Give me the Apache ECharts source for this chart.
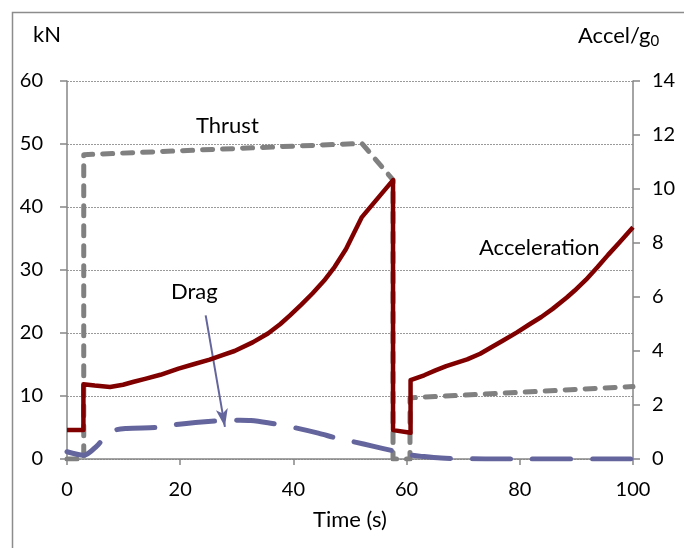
<!DOCTYPE html>
<html>
<head>
<meta charset="utf-8">
<script src="https://cdn.jsdelivr.net/npm/echarts@6/dist/echarts.min.js"></script>
<style>
html,body{margin:0;padding:0;background:#fff;}
#c{width:684px;height:548px;}
</style>
</head>
<body>
<div id="c"></div>
<script>
const xTicks = [0, 20, 40, 60, 80, 100];
const thrustTime = [0, 2.96, 2.96, 52.1, 57.6, 57.6, 60.6, 60.6, 100];
const thrustKN   = [0, 0, 48.3, 50.1, 44.3, 0, 0, 9.7, 11.5];

const accelTime = [0, 2.9, 2.9, 4.9, 7.6, 9.9, 11.8, 13.8, 16.5, 19.7, 22.2, 25.2, 27.6, 29.6, 32.8, 35.5, 37.7, 39.4, 41.4, 43.4, 45.4, 47.3, 49.3, 52.1, 57.6, 57.6, 60.7, 60.7, 63.1, 65.1, 67.0, 70.7, 73.0, 74.9, 76.9, 79.5, 81.8, 83.8, 85.8, 88.3, 89.7, 91.7, 93.7, 95.6, 97.6, 100];
const accelG    = [1.07, 1.07, 2.77, 2.72, 2.67, 2.75, 2.86, 2.97, 3.12, 3.35, 3.5, 3.68, 3.86, 4.0, 4.32, 4.65, 5.0, 5.32, 5.72, 6.14, 6.6, 7.12, 7.78, 8.96, 10.33, 1.07, 0.97, 2.92, 3.1, 3.28, 3.44, 3.69, 3.9, 4.13, 4.37, 4.69, 5.0, 5.26, 5.56, 5.98, 6.24, 6.64, 7.1, 7.56, 8.02, 8.58];

const dragTime = [0, 2.96, 5.3, 7.6, 10.5, 15.8, 18.7, 22.7, 26.6, 30.6, 32.5, 35.5, 37.7, 40.6, 44.4, 47.7, 50.6, 54.2, 57.6, 60.7, 63.1, 66.1, 69, 73.9, 78.9, 100];
const dragKN   = [1.15, 0.6, 2.1, 4.3, 4.85, 5.0, 5.4, 5.8, 6.05, 6.15, 6.1, 5.75, 5.4, 4.9, 4.1, 3.3, 2.75, 2.0, 1.3, 0.63, 0.38, 0.15, 0.05, 0.01, 0, 0];

const zip = (a, b) => a.map((v, i) => [v, b[i]]);
const FONT = 'Lato';
const axisColor = '#868686';

const chart = echarts.init(document.getElementById('c'), null, {renderer: 'canvas'});
chart.setOption({
  animation: false,
  backgroundColor: '#ffffff',
  grid: {left: 67, right: 51, top: 81, bottom: 89},
  xAxis: {
    type: 'value', min: 0, max: 100, interval: 20,
    name: 'Time (s)', nameLocation: 'middle', nameGap: 50,
    nameTextStyle: {fontFamily: FONT, fontSize: 22, color: '#000'},
    axisLine: {show: true, lineStyle: {color: axisColor, width: 1.5}},
    axisTick: {show: true, inside: false, length: 6, lineStyle: {color: axisColor, width: 1.5}},
    axisLabel: {fontFamily: FONT, fontSize: 20, color: '#000', margin: 21,
      formatter: v => xTicks.includes(v) ? String(v) : ''},
    splitLine: {show: false}
  },
  yAxis: [
    {
      type: 'value', min: 0, max: 60, interval: 10, position: 'left',
      axisLine: {show: true, lineStyle: {color: axisColor, width: 1.5}},
      axisTick: {show: true, inside: false, length: 7, lineStyle: {color: axisColor, width: 1.5}},
      axisLabel: {fontFamily: FONT, fontSize: 20, color: '#000', margin: 24},
      splitLine: {show: true, lineStyle: {color: '#9a9a9a', width: 1, type: [2, 1]}}
    },
    {
      type: 'value', min: 0, max: 14, interval: 2, position: 'right',
      axisLine: {show: true, lineStyle: {color: axisColor, width: 1.5}},
      axisTick: {show: true, inside: false, length: 7, lineStyle: {color: axisColor, width: 1.5}},
      axisLabel: {fontFamily: FONT, fontSize: 20, color: '#000', margin: 19},
      splitLine: {show: false}
    }
  ],
  series: [
    {
      name: 'Thrust', type: 'line', yAxisIndex: 0, showSymbol: false, z: 3,
      data: zip(thrustTime, thrustKN),
      lineStyle: {color: '#808080', width: 5, type: [10, 10], cap: 'round', join: 'round'}
    },
    {
      name: 'Drag', type: 'line', yAxisIndex: 0, showSymbol: false, smooth: 0.3, z: 4,
      data: zip(dragTime, dragKN),
      lineStyle: {color: '#65659e', width: 5, type: [38, 22], cap: 'round', join: 'round'},
      markLine: {
        silent: true, symbol: ['none', 'arrow'], symbolSize: [9, 18],
        lineStyle: {color: '#65659e', width: 2, type: 'solid'},
        label: {show: false},
        data: [[{coord: [24.5, 22.8]}, {coord: [27.9, 5.1]}]]
      }
    },
    {
      name: 'Acceleration', type: 'line', yAxisIndex: 1, showSymbol: false, z: 5,
      data: zip(accelTime, accelG),
      lineStyle: {color: '#800000', width: 4.5, join: 'round'}
    }
  ],
  graphic: [
    {type: 'rect', left: 10, top: 10, shape: {width: 720, height: 600},
     style: {fill: 'none', stroke: '#8c8c8c', lineWidth: 1.5}, silent: true},
    {type: 'text', left: 33, top: 24, style: {text: 'kN', fontFamily: FONT, fontSize: 22, fill: '#000'}},
    {type: 'text', left: 578, top: 25, style: {
      text: '{a|Accel/g}{s|0}', rich: {
        a: {fontFamily: FONT, fontSize: 22, color: '#000'},
        s: {fontFamily: FONT, fontSize: 15, color: '#000', padding: [11, 0, 0, 0]}
      }}},
    {type: 'text', left: 196, top: 115, style: {text: 'Thrust', fontFamily: FONT, fontSize: 22, fill: '#000'}},
    {type: 'text', left: 479, top: 237, style: {text: 'Acceleration', fontFamily: FONT, fontSize: 22, fill: '#000'}},
    {type: 'text', left: 171, top: 281, style: {text: 'Drag', fontFamily: FONT, fontSize: 22, fill: '#000'}}
  ]
});
</script>
</body>
</html>
